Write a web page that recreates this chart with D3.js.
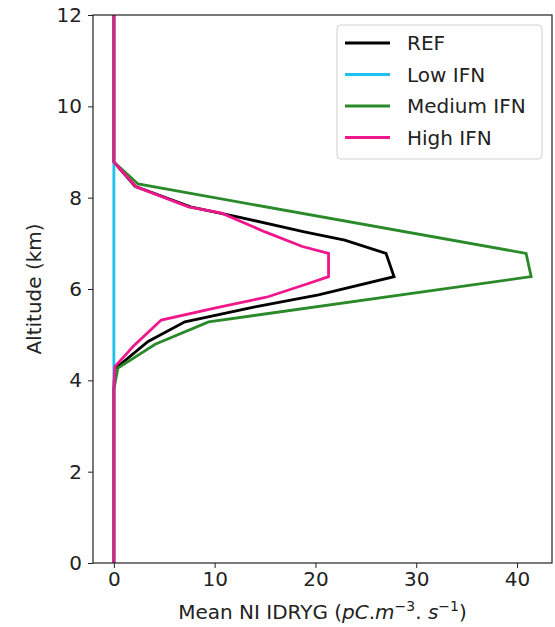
<!DOCTYPE html>
<html>
<head>
<meta charset="utf-8">
<script src="https://cdn.jsdelivr.net/npm/d3@7"></script>
<style>
  body { margin: 0; background: #fff; }
  svg { font-family: "DejaVu Sans", sans-serif; }
</style>
</head>
<body>
<svg id="chart"></svg>
<script>
// values (x = mean NI IDRYG, alt in km)
const seriesNames = ["REF", "Low IFN", "Medium IFN", "High IFN"];
const seriesColors = ["#000000", "#1ec0f0", "#2a8a2a", "#f0168c"];

const refAlt = [0, 3.8, 4.25, 4.85, 5.28, 5.61, 5.87, 6.27, 6.78, 7.07, 7.25, 7.57, 7.8, 8.25, 8.78, 12];
const refVal = [0, 0, 0.1, 3.4, 7.05, 14.0, 20.3, 27.8, 27.0, 22.9, 18.9, 12.5, 7.6, 2.1, 0, 0];

const lowAlt = [0, 12];
const lowVal = [0, 0];

const medAlt = [0, 3.8, 4.27, 4.79, 5.28, 6.27, 6.78, 8.3, 8.78, 12];
const medVal = [0, 0, 0.4, 4.1, 9.4, 41.4, 40.9, 2.4, 0, 0];

const highAlt = [0, 3.85, 4.3, 4.59, 4.74, 5.32, 5.58, 5.83, 6.12, 6.27, 6.78, 6.93, 7.25, 7.66, 7.8, 8.24, 8.78, 12];
const highVal = [0, 0, 0.1, 1.3, 1.9, 4.7, 10.0, 15.3, 19.3, 21.3, 21.3, 18.7, 15.0, 10.7, 7.4, 2.2, 0, 0];

const xTicks = [0, 10, 20, 30, 40];
const yTicks = [0, 2, 4, 6, 8, 10, 12];

const width = 555;
const height = 627;
const padLeft = 93, padRight = 552, padTop = 15, padBottom = 563;
const fontSize = 20;

const svg = d3.select("#chart").attr("width", width).attr("height", height);

const xMax = 41.4;
const xScale = d3.scaleLinear()
  .domain([-0.05 * xMax, 1.05 * xMax])
  .range([padLeft, padRight]);

const yScale = d3.scaleLinear()
  .domain([0, 12])
  .range([padBottom, padTop]);

const series = [
  { alt: refAlt, val: refVal },
  { alt: lowAlt, val: lowVal },
  { alt: medAlt, val: medVal },
  { alt: highAlt, val: highVal }
];

const line = d3.line()
  .x(d => xScale(d[0]))
  .y(d => yScale(d[1]));

series.forEach((s, i) => {
  const pts = s.val.map((v, j) => [v, s.alt[j]]);
  svg.append("path")
    .datum(pts)
    .attr("d", line)
    .attr("fill", "none")
    .attr("stroke", seriesColors[i])
    .attr("stroke-width", 2.8)
    .attr("stroke-linejoin", "miter");
});

// axes
const xAxis = svg.append("g")
  .attr("transform", "translate(0," + padBottom + ")")
  .call(d3.axisBottom(xScale).tickValues(xTicks).tickSize(5).tickPadding(4));

const yAxis = svg.append("g")
  .attr("transform", "translate(" + padLeft + ",0)")
  .call(d3.axisLeft(yScale).tickValues(yTicks).tickSize(5).tickPadding(6));

[xAxis, yAxis].forEach(ax => {
  ax.select(".domain").remove();
  ax.selectAll("text")
    .style("font-size", fontSize + "px")
    .style("font-family", "DejaVu Sans, sans-serif")
    .attr("fill", "#222");
  ax.selectAll("line").attr("stroke", "#222").attr("stroke-width", 1);
});

// frame
svg.append("rect")
  .attr("x", padLeft).attr("y", padTop)
  .attr("width", padRight - padLeft).attr("height", padBottom - padTop)
  .attr("fill", "none").attr("stroke", "#222").attr("stroke-width", 1.2);

// axis titles
svg.append("text")
  .attr("transform", "translate(41," + ((padTop + padBottom) / 2) + ") rotate(-90)")
  .style("text-anchor", "middle")
  .style("font-size", fontSize + "px")
  .attr("fill", "#222")
  .text("Altitude (km)");

const xl = svg.append("text")
  .attr("x", (padLeft + padRight) / 2)
  .attr("y", 619)
  .style("text-anchor", "middle")
  .style("font-size", fontSize + "px")
  .attr("fill", "#222");
xl.append("tspan").text("Mean NI IDRYG (");
xl.append("tspan").style("font-style", "italic").text("pC");
xl.append("tspan").text(".");
xl.append("tspan").style("font-style", "italic").text("m");
xl.append("tspan").attr("dy", -8).style("font-size", "14px").text("\u22123");
xl.append("tspan").attr("dy", 8).text(". ");
xl.append("tspan").style("font-style", "italic").text("s");
xl.append("tspan").attr("dy", -8).style("font-size", "14px").text("\u22121");
xl.append("tspan").attr("dy", 8).text(")");

// legend
const legend = svg.append("g").attr("transform", "translate(337,25)");
legend.append("rect")
  .attr("width", 205).attr("height", 134)
  .attr("rx", 4)
  .attr("fill", "#fff")
  .attr("stroke", "#d0d0d0")
  .attr("stroke-width", 1);

seriesNames.forEach((name, i) => {
  const y = 18 + i * 31.5;
  legend.append("line")
    .attr("x1", 8).attr("x2", 53)
    .attr("y1", y).attr("y2", y)
    .attr("stroke", seriesColors[i])
    .attr("stroke-width", 3);
  legend.append("text")
    .attr("x", 70).attr("y", y + 7)
    .style("font-size", fontSize + "px")
    .attr("fill", "#222")
    .text(name);
});
</script>
</body>
</html>
